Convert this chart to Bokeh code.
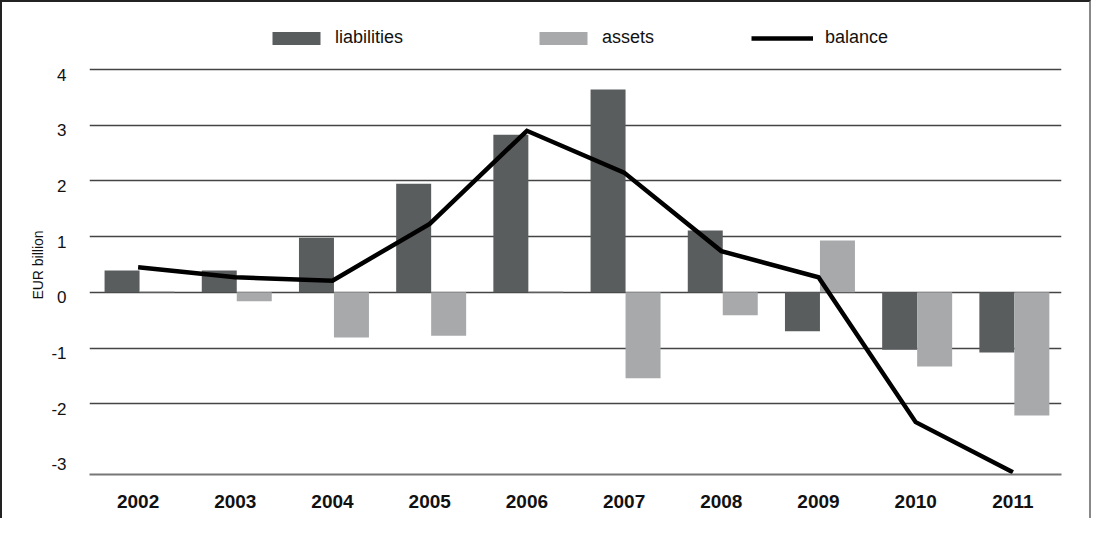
from bokeh.plotting import figure
from bokeh.models import (FactorRange, Range1d, FixedTicker, Legend, LegendItem,
                          ColumnDataSource, CustomJSTickFormatter)
from bokeh.transform import dodge
from bokeh.embed import file_html
from bokeh.resources import INLINE

years = ["2002", "2003", "2004", "2005", "2006", "2007", "2008", "2009", "2010", "2011"]
liabilities = [0.39, 0.39, 0.98, 1.95, 2.83, 3.64, 1.11, -0.70, -1.03, -1.08]
assets = [0.02, -0.16, -0.81, -0.78, 0.02, -1.54, -0.41, 0.93, -1.33, -2.21]
balance = [0.45, 0.27, 0.21, 1.23, 2.90, 2.15, 0.74, 0.27, -2.33, -3.23]
y_ticks = [-3, -2, -1, 0, 1, 2, 3, 4]
grid_ticks = [-2, -1, 0, 1, 2, 3, 4]

FONT = "Liberation Sans"
DARK = "#5a5d5e"
LIGHT = "#a7a9aa"
LABEL_SHIFT = 0.09  # tick labels sit slightly below their gridlines in the original

src = ColumnDataSource(dict(years=years, liabilities=liabilities, assets=assets, balance=balance))

p = figure(width=1091, height=518, output_backend="svg", toolbar_location=None,
           x_range=FactorRange(factors=years, range_padding=0),
           y_range=Range1d(-3.27, 4.88))
p.min_border_left = 87
p.min_border_right = 32
p.min_border_top = 18
p.min_border_bottom = 46
p.outline_line_color = None
p.styles = {"border-top": "2px solid #222", "border-left": "2px solid #222",
            "border-right": "2px solid #888", "box-sizing": "border-box"}

r_l = p.vbar(x=dodge("years", -0.165, range=p.x_range), top="liabilities", bottom=0,
             width=0.36, source=src, color=DARK, line_color=None)
r_a = p.vbar(x=dodge("years", 0.195, range=p.x_range), top="assets", bottom=0,
             width=0.36, source=src, color=LIGHT, line_color=None)
r_b = p.line(x="years", y="balance", source=src, line_color="black", line_width=4.5,
             line_join="miter")

# axes
p.xaxis.axis_line_color = "#777777"
p.xaxis.axis_line_width = 2
p.xaxis.major_tick_line_color = None
p.xaxis.minor_tick_line_color = None
p.xaxis.major_label_text_font = FONT
p.xaxis.major_label_text_font_style = "bold"
p.xaxis.major_label_text_font_size = "19px"
p.xaxis.major_label_text_color = "#111111"
p.xaxis.major_label_standoff = 14

p.yaxis.ticker = FixedTicker(ticks=[t - LABEL_SHIFT for t in y_ticks])
p.yaxis.formatter = CustomJSTickFormatter(code="return String(Math.round(tick + %s));" % LABEL_SHIFT)
p.yaxis.axis_line_color = None
p.yaxis.major_tick_line_color = None
p.yaxis.minor_tick_line_color = None
p.yaxis.major_label_text_font = FONT
p.yaxis.major_label_text_font_size = "17px"
p.yaxis.major_label_text_color = "#111111"
p.yaxis.major_label_standoff = 17
p.yaxis.axis_label = "EUR billion" + "\u00a0" * 9
p.yaxis.axis_label_text_font = FONT
p.yaxis.axis_label_text_font_style = "normal"
p.yaxis.axis_label_text_font_size = "14px"
p.yaxis.axis_label_text_color = "#111111"
p.yaxis.axis_label_standoff = 2

p.xgrid.grid_line_color = None
p.ygrid.ticker = FixedTicker(ticks=grid_ticks)
p.ygrid.grid_line_color = "#444444"
p.ygrid.grid_line_width = 1.5

# legends (one per item to match spacing)
for lab, rend, xloc, gw, so in [("liabilities", r_l, 177, 60, 9),
                                ("assets", r_a, 444, 60, 9),
                                ("balance", r_b, 662, 62, 12)]:
    leg = Legend(items=[LegendItem(label=lab, renderers=[rend])],
                 location=(xloc, 426), orientation="horizontal",
                 border_line_alpha=0, background_fill_alpha=0,
                 padding=0, margin=0, spacing=0,
                 glyph_width=gw, glyph_height=16, label_height=16,
                 label_standoff=so, label_text_font=FONT,
                 label_text_font_size="18px", label_text_color="#111111")
    p.add_layout(leg)

open("out.html", "w").write(file_html(p, INLINE))
